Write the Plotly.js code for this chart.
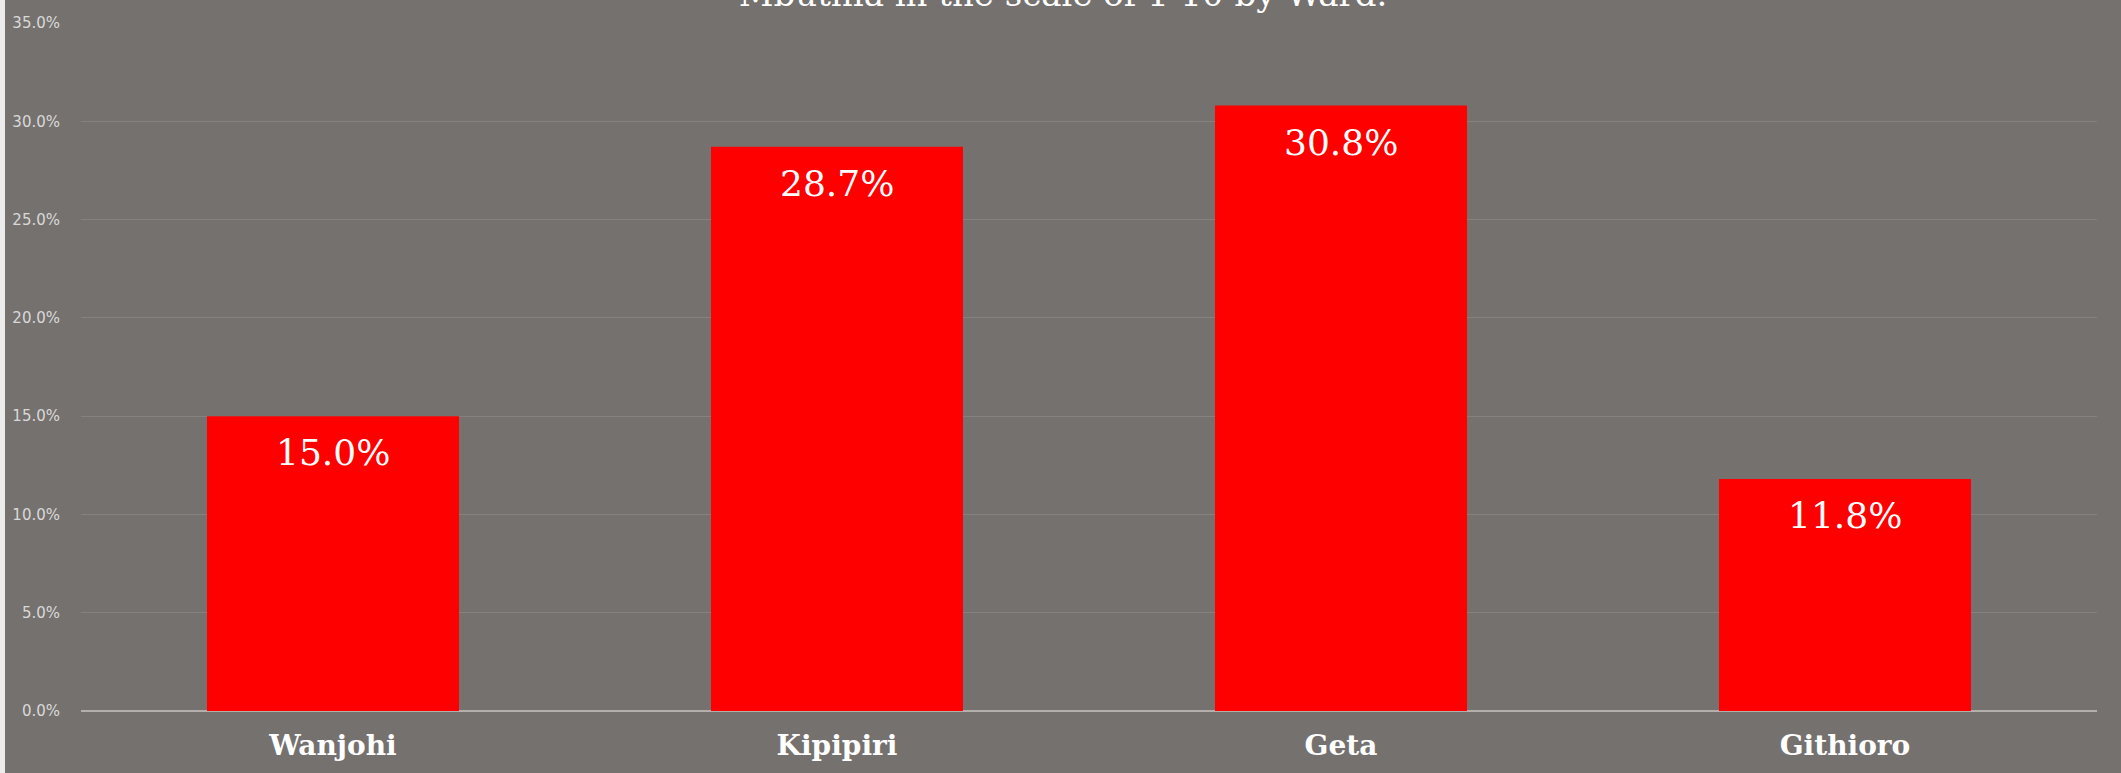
<!DOCTYPE html>
<html>
<head>
<meta charset="utf-8">
<script src="https://cdn.plot.ly/plotly-3.0.1.min.js"></script>
<style>
  html, body { margin: 0; padding: 0; background: #ececec; }
  #chart { position: absolute; left: 5px; top: 0; width: 2116px; height: 773px; }
</style>
</head>
<body>
<div id="chart"></div>
<script>
const titleText = "Mbuthia in the scale of 1-10 by Ward.";
const wards = ["Wanjohi", "Kipipiri", "Geta", "Githioro"];
const shares = [0.150, 0.287, 0.308, 0.118];
const labels = ["15.0%", "28.7%", "30.8%", "11.8%"];
const yTickVals = [0, 0.05, 0.10, 0.15, 0.20, 0.25, 0.30, 0.35];
const yTickText = ["0.0%", "5.0%", "10.0%", "15.0%", "20.0%", "25.0%", "30.0%", "35.0%"];

const bg = "#75716f";

const trace = {
  type: "bar",
  x: wards,
  y: shares,
  marker: { color: "#ff0000", line: { width: 0 } },
  width: 0.5,
  hoverinfo: "none"
};

const valueLabels = wards.map((w, i) => ({
  x: w,
  y: shares[i],
  xref: "x",
  yref: "y",
  text: labels[i],
  showarrow: false,
  xanchor: "center",
  yanchor: "top",
  yshift: -14,
  font: { family: "DejaVu Serif", size: 36, color: "#ffffff" }
}));

const layout = {
  width: 2116,
  height: 773,
  paper_bgcolor: bg,
  plot_bgcolor: bg,
  margin: { l: 76, r: 24, t: 23, b: 62, pad: 0 },
  showlegend: false,
  title: {
    text: titleText,
    font: { family: "DejaVu Serif", size: 34, color: "#ffffff" },
    x: 0.5,
    xanchor: "center",
    xref: "container",
    yref: "container",
    y: 0.992,
    yanchor: "bottom"
  },
  annotations: valueLabels,
  xaxis: {
    type: "category",
    showgrid: false,
    zeroline: false,
    showline: false,
    ticks: "",
    tickfont: { family: "DejaVu Serif", size: 28, color: "#ffffff", weight: "bold" },
    ticklabelstandoff: 15
  },
  yaxis: {
    range: [0, 0.35],
    tickvals: yTickVals,
    ticktext: yTickText,
    showgrid: true,
    gridcolor: "#85817f",
    gridwidth: 1,
    zeroline: true,
    zerolinecolor: "#b3afad",
    zerolinewidth: 2,
    showline: false,
    ticks: "",
    tickfont: { family: "DejaVu Sans", size: 15, color: "#d9d9d9" },
    ticklabelstandoff: 20
  }
};

Plotly.newPlot("chart", [trace], layout, { displayModeBar: false, staticPlot: true });
</script>
</body>
</html>
